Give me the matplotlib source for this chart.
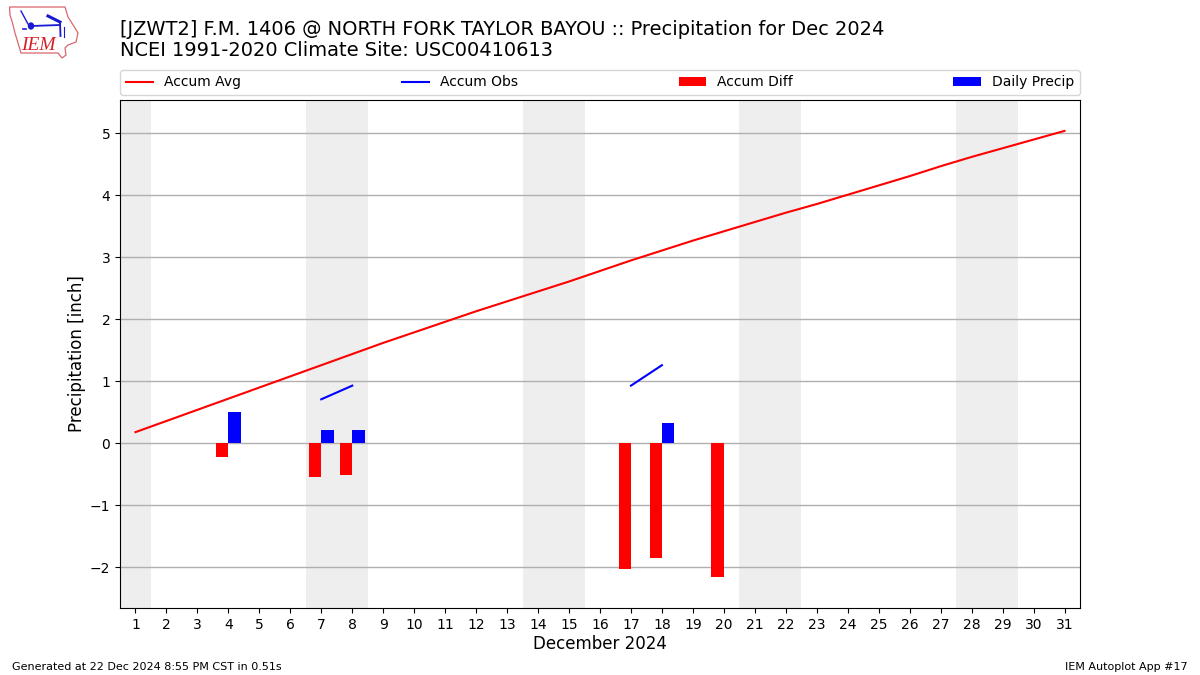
"""December 2024 accumulated precipitation for JZWT2 against climatology."""

import matplotlib
matplotlib.use("Agg")
import matplotlib.pyplot as plt
from matplotlib.patches import Ellipse, Polygon

days = list(range(1, 32))
accum_avg = [0.18, 0.36, 0.54, 0.72, 0.90, 1.08, 1.26, 1.44, 1.62, 1.79, 1.96, 2.13,
             2.29, 2.45, 2.61, 2.78, 2.95, 3.11, 3.27, 3.42, 3.57, 3.72, 3.86, 4.01,
             4.16, 4.31, 4.47, 4.62, 4.76, 4.90, 5.04]
obs_days_a = [7, 8]
obs_a = [0.71, 0.93]
obs_days_b = [17, 18]
obs_b = [0.93, 1.26]
diff_days = [4, 7, 8, 17, 18, 20]
diff_vals = [-0.22, -0.55, -0.51, -2.02, -1.85, -2.16]
precip_days = [4, 7, 8, 18]
precip_vals = [0.50, 0.21, 0.21, 0.33]
weekends = [(0.5, 1.5), (6.5, 8.5), (13.5, 15.5), (20.5, 22.5), (27.5, 29.5)]

# logo outline, in pixels of the figure
iowa_outline = [(9.5, 7), (65, 7), (68, 17), (75, 28), (78, 33), (76, 42), (68, 45), (65, 48),
                (66, 55), (62, 58), (58, 53), (21, 53), (18, 43), (15, 33), (12.5, 23), (10, 15)]

fig = plt.figure(figsize=(12, 6.75), dpi=100)
ax = fig.add_axes([0.1, 0.099, 0.8, 0.753])

for start, end in weekends:
    ax.axvspan(start, end, color="#eeeeee", zorder=0, lw=0)

ax.plot(days, accum_avg, color="r", label="Accum Avg", lw=1.5, zorder=3)
ax.plot(obs_days_a, obs_a, color="b", label="Accum Obs", lw=1.5, zorder=3)
ax.plot(obs_days_b, obs_b, color="b", lw=1.5, zorder=3)
ax.bar([d - 0.2 for d in diff_days], diff_vals, width=0.4, color="r", label="Accum Diff", zorder=3)
ax.bar([d + 0.2 for d in precip_days], precip_vals, width=0.4, color="b", label="Daily Precip", zorder=3)

ax.set_xlim(0.5, 31.5)
ax.set_ylim(-2.66, 5.54)
ax.set_xticks(days)
ax.set_yticks(range(-2, 6))
ax.tick_params(labelsize=10)
ax.grid(axis="y", color="#b0b0b0", lw=1.0, zorder=1)
ax.set_axisbelow(True)
ax.set_xlabel("December 2024", fontsize=12, labelpad=2.5)
ax.set_ylabel("Precipitation [inch]", fontsize=12, labelpad=2.5)
ax.legend(loc="lower left", bbox_to_anchor=(0, 1.0098, 1, 0.05), mode="expand", ncol=4,
          borderaxespad=0, fontsize=10)

fig.text(0.1, 0.9705, "[JZWT2] F.M. 1406 @ NORTH FORK TAYLOR BAYOU :: Precipitation for Dec 2024\n"
         "NCEI 1991-2020 Climate Site: USC00410613", fontsize=13.98, va="top", linespacing=1.15)
fig.text(0.01, 0.0075, "Generated at 22 Dec 2024 8:55 PM CST in 0.51s", fontsize=8)
fig.text(0.99, 0.0075, "IEM Autoplot App #17", fontsize=8, ha="right")

# small IEM logo
logo = fig.add_axes([0, 0.91, 0.07, 0.09])
logo.set_xlim(0, 84)
logo.set_ylim(60.75, 0)
logo.axis("off")
logo.add_patch(Polygon(iowa_outline, fill=False, edgecolor="#d9666f", lw=0.9))
logo.plot([31, 60], [26, 25], color="#1a1ad0", lw=1.3)
logo.plot([60, 60.5], [22, 36], color="#1a1ad0", lw=1.3)
logo.plot([21, 28], [11, 24], color="#1a1ad0", lw=1.0)
logo.plot([48, 60], [16, 22], color="#1a1ad0", lw=2.2)
logo.plot([64, 64], [27, 37], color="#1a1ad0", lw=0.8)
logo.plot([23, 26], [29, 29], color="#1a1ad0", lw=1.2)
logo.add_patch(Ellipse((31, 26), 5, 6, color="#1a1ad0"))
logo.text(21, 45.5, "IEM", color="#d62027", fontsize=14, family="Liberation Serif", style="italic", va="center")

plt.savefig("out.png", dpi=100)
